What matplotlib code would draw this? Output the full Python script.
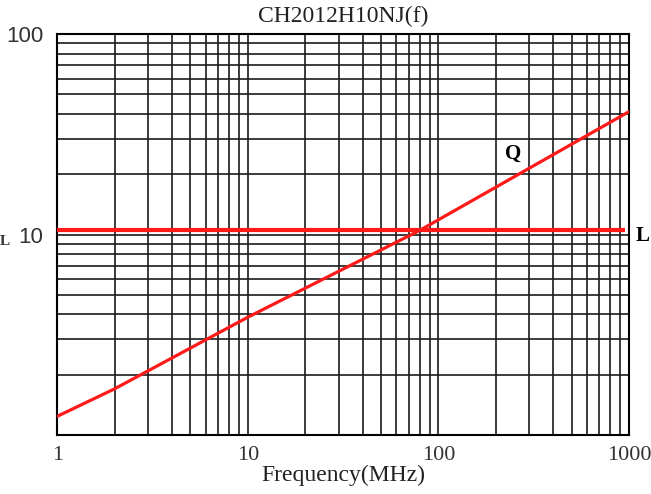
import matplotlib
matplotlib.use("Agg")
import matplotlib.pyplot as plt
from matplotlib.ticker import FixedLocator, NullFormatter, LogLocator

plt.rcParams["font.family"] = ["Liberation Serif", "DejaVu Serif"]

# data (log-log)
freq_q = [1, 2, 10, 80, 1000]
q_vals = [1.24, 1.70, 3.87, 10.5, 41.0]
freq_l = [1, 960]
l_vals = [10.5, 10.5]

x_ticks = [1, 10, 100, 1000]
x_labels = ["1", "10", "100", "1000"]
y_ticks = [10, 100]
y_labels = ["10", "100"]

fig = plt.figure(figsize=(6.51, 4.94), dpi=100)
ax = fig.add_axes([0.088, 0.1194, 0.878, 0.8116])
ax.set_xscale("log")
ax.set_yscale("log")
ax.set_xlim(1, 1000)
ax.set_ylim(1, 100)

ax.xaxis.set_major_locator(FixedLocator(x_ticks))
ax.set_xticklabels(x_labels)
ax.yaxis.set_major_locator(FixedLocator(y_ticks))
ax.set_yticklabels(y_labels)
ax.xaxis.set_minor_locator(LogLocator(base=10, subs=range(2, 10)))
ax.yaxis.set_minor_locator(LogLocator(base=10, subs=range(2, 10)))
ax.xaxis.set_minor_formatter(NullFormatter())
ax.yaxis.set_minor_formatter(NullFormatter())
ax.tick_params(which="both", length=0, pad=8)
ax.tick_params(axis="x", labelsize=16, colors="#333333")
ax.tick_params(axis="y", labelsize=16, pad=10, colors="#333333")
for lbl in ax.get_yticklabels():
    lbl.set_family(["Liberation Sans", "DejaVu Sans"])

ax.grid(which="both", color="#1a1a1a", lw=1.2)
for s in ax.spines.values():
    s.set_linewidth(1.5)
    s.set_color("black")

ax.plot(freq_l, l_vals, color="#ff1a1a", lw=3, solid_capstyle="butt", zorder=3)
ax.plot(freq_q, q_vals, color="#ff1a1a", lw=2.3, zorder=3)

ax.text(246, 25.3, "Q", fontsize=15, fontweight="bold", ha="center", va="center")
ax.text(1183, 9.8, "L", fontsize=15, fontweight="bold", ha="center", va="center",
        clip_on=False)
fig.text(0.0, 0.512, "L", fontsize=11, fontweight="bold", ha="left", va="center",
         color="#333333")

ax.set_title("CH2012H10NJ(f)", fontsize=17, pad=9, color="#222222")
ax.set_xlabel("Frequency(MHz)", fontsize=17, labelpad=0, color="#222222")

fig.savefig("out.png", dpi=100)
